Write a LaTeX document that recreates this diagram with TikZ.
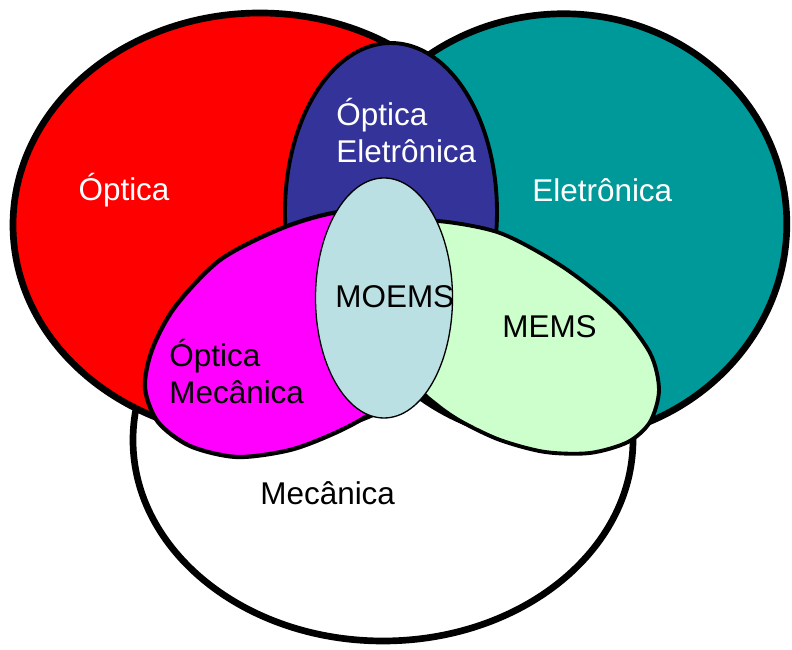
\documentclass[tikz,border=0pt]{standalone}
\usepackage{fontspec}
\setmainfont{Liberation Sans}
\definecolor{optred}{HTML}{FF0000}
\definecolor{eletteal}{HTML}{009999}
\definecolor{opelblue}{HTML}{333399}
\definecolor{opmecmag}{HTML}{FF00FF}
\definecolor{memsgreen}{HTML}{CCFFCC}
\definecolor{moemsblue}{HTML}{BBE0E3}
\begin{document}
\begin{tikzpicture}[
		bigset/.style={draw=black, line width=3.8pt},
		subset/.style={draw=black, line width=2.2pt},
		lbl/.style={inner sep=0pt, anchor=base west, font=\fontsize{17.9}{21}\selectfont}
	]
			\useasboundingbox (0,0) rectangle (15.84,13);
			% mecanica
			\filldraw[bigset, fill=white] (7.66,4.2) ellipse (5.0 and 4.02);
			% optica and eletronica
			\filldraw[bigset, fill=optred] (5.2,8.5) ellipse (4.94 and 4.24);
			\filldraw[bigset, fill=eletteal, rotate around={7:(11.2,8.46)}] (11.2,8.46) ellipse (4.54 and 4.26);
			% optica eletronica
			\filldraw[subset, fill=opelblue] (7.82,8.76) ellipse (2.12 and 3.38);
			% optica mecanica
			\filldraw[subset, line width=2.4pt, fill=opmecmag] plot[smooth cycle] coordinates {
				(2.90,5.24) (3.16,4.56) (3.80,4.08) (4.74,3.86) (5.80,4.00) (6.70,4.34)
				(7.40,4.72) (8.10,5.30) (8.70,6.40) (8.90,7.60) (8.64,8.44) (7.90,8.84)
				(6.66,8.74) (5.60,8.42) (4.40,7.80) (3.50,6.86) (3.04,6.00)};
			% mems
			\filldraw[subset, fill=memsgreen] plot[smooth cycle] coordinates {
				(8.74,8.58) (10.00,8.34) (11.26,7.66) (12.34,6.80) (13.00,5.94) (13.18,5.20)
				(13.00,4.56) (12.56,4.16) (11.80,3.94) (10.90,3.96) (10.00,4.20) (9.24,4.56)
				(8.74,4.90) (8.36,5.30) (8.04,6.40) (8.10,7.80) (8.30,8.44)};
			% moems
			\filldraw[draw=black, line width=0.75pt, fill=moemsblue] (7.68,7.04) ellipse (1.37 and 2.4);
			% labels
			\node[lbl, white, anchor=base] (optica) at (2.48,8.98) {Óptica};
			\node[lbl, white] (opel1) at (6.72,10.48) {Óptica};
			\node[lbl, white] (opel2) at (6.72,9.74) {Eletrônica};
			\node[lbl, white] (eletronica) at (10.64,8.96) {Eletrônica};
			\node[lbl] (moems) at (6.70,6.84) {MOEMS};
			\node[lbl] (mems) at (10.04,6.24) {MEMS};
			\node[lbl] (opmec1) at (3.38,5.66) {Óptica};
			\node[lbl] (opmec2) at (3.38,4.92) {Mecânica};
			\node[lbl] (mecanica) at (5.20,2.90) {Mecânica};
		\end{tikzpicture}
\end{document}
